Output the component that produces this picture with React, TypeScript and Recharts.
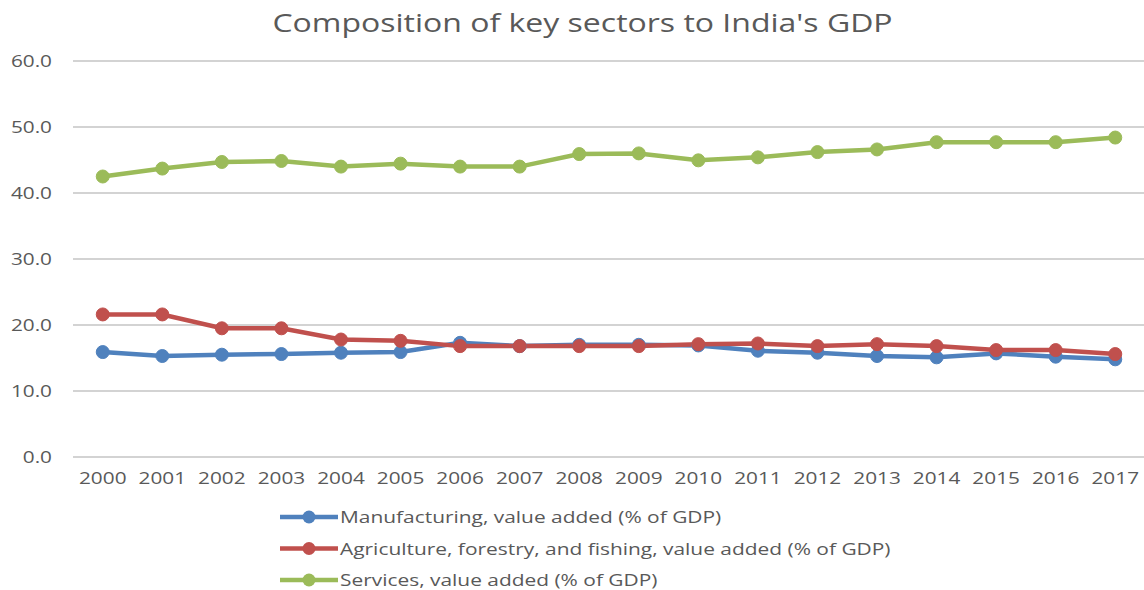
import React from "react";
import { LineChart, Line, XAxis, YAxis, CartesianGrid } from "recharts";

const years = ["2000","2001","2002","2003","2004","2005","2006","2007","2008","2009","2010","2011","2012","2013","2014","2015","2016","2017"];
const manufacturing = [15.9,15.3,15.5,15.6,15.8,15.9,17.3,16.8,17.0,17.0,16.9,16.1,15.8,15.3,15.1,15.7,15.2,14.8];
const agriculture = [21.6,21.6,19.5,19.5,17.8,17.6,16.8,16.8,16.8,16.8,17.1,17.2,16.8,17.1,16.8,16.2,16.2,15.6];
const services = [42.5,43.7,44.7,44.85,44.0,44.45,44.0,44.0,45.9,46.0,44.95,45.4,46.2,46.6,47.7,47.7,47.7,48.4];
const yTicks = [0,10,20,30,40,50,60];

const seriesNames = [
  "Manufacturing, value added (% of GDP)",
  "Agriculture, forestry, and fishing, value added (% of GDP)",
  "Services, value added (% of GDP)",
];
const colors = ["#4F81BD", "#C0504D", "#9BBB59"];
const title = "Composition of key sectors to India's GDP";

const data = years.map((y, i) => ({
  year: y,
  m: manufacturing[i],
  a: agriculture[i],
  s: services[i],
}));

const FONT = "'Open Sans', sans-serif";
const TEXT = "#595959";
const SX = 1.3;

const XTick = (props: any) => {
  const { x, payload } = props;
  return (
    <g transform={`translate(${x},484) scale(${SX},1)`}>
      <text x={0} y={0} textAnchor="middle" fontFamily={FONT} fontSize={16} fill={TEXT}>
        {payload.value}
      </text>
    </g>
  );
};

const YTick = (props: any) => {
  const { y, payload } = props;
  return (
    <g transform={`translate(52,${y + 6}) scale(${SX},1)`}>
      <text x={0} y={0} textAnchor="end" fontFamily={FONT} fontSize={16} fill={TEXT}>
        {Number(payload.value).toFixed(1)}
      </text>
    </g>
  );
};

export default function App() {
  const keys = ["m", "a", "s"];
  return (
    <div style={{ position: "absolute", left: 0, top: 0, width: 1144, height: 590, overflow: "hidden", background: "#fff" }}>
      <LineChart
        width={1160}
        height={590}
        data={data}
        margin={{ top: 61, right: 15, left: 0, bottom: 93 }}
      >
        <CartesianGrid horizontal={true} vertical={false} stroke="#C4C4C4" strokeWidth={1.6} />
        <XAxis
          dataKey="year"
          axisLine={false}
          tickLine={false}
          height={40}
          padding={{ left: 29.75, right: 29.75 }}
          tick={<XTick />}
          interval={0}
        />
        <YAxis
          width={73}
          domain={[0, 60]}
          ticks={yTicks}
          axisLine={false}
          tickLine={false}
          tick={<YTick />}
          interval={0}
        />
        {keys.map((k, i) => (
          <Line
            key={k}
            type="linear"
            dataKey={k}
            name={seriesNames[i]}
            stroke={colors[i]}
            strokeWidth={4.5}
            dot={{ r: 6.5, fill: colors[i], stroke: colors[i], strokeWidth: 1 }}
            isAnimationActive={false}
          />
        ))}
      </LineChart>
      <svg width={1144} height={590} style={{ position: "absolute", left: 0, top: 0, pointerEvents: "none" }}>
        <g transform={`translate(582.5,32) scale(1.28,1)`}>
          <text x={0} y={0} textAnchor="middle" fontFamily={FONT} fontSize={25} fill={TEXT}>
            {title}
          </text>
        </g>
        {seriesNames.map((n, i) => {
          const cy = 517 + i * 31.5;
          return (
            <g key={n}>
              <line x1={280} x2={338} y1={cy} y2={cy} stroke={colors[i]} strokeWidth={4.5} />
              <circle cx={309} cy={cy} r={6.5} fill={colors[i]} />
              <g transform={`translate(340,${cy + 6}) scale(1.23,1)`}>
                <text x={0} y={0} fontFamily={FONT} fontSize={17} fill={TEXT}>
                  {n}
                </text>
              </g>
            </g>
          );
        })}
      </svg>
    </div>
  );
}
